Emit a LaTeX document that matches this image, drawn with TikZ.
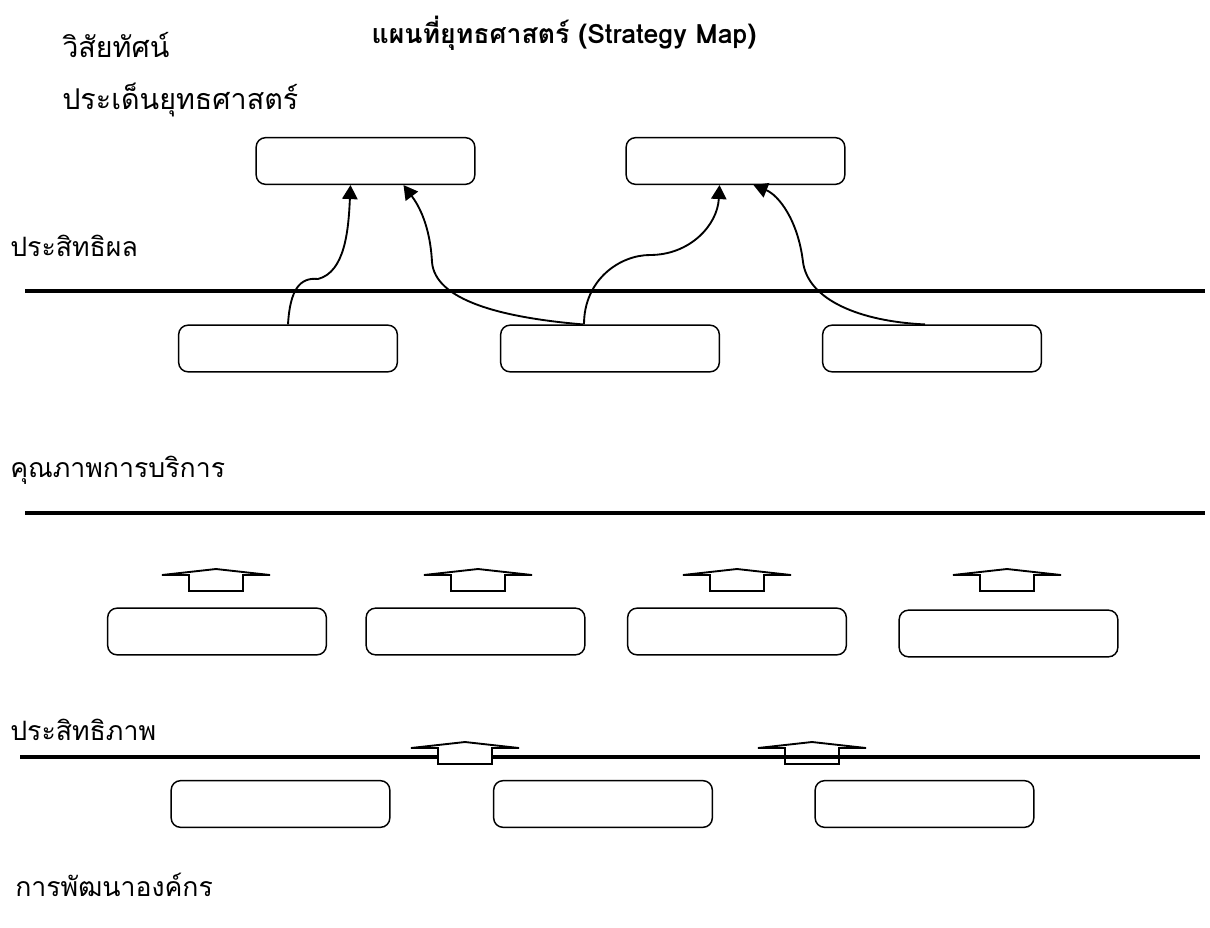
\documentclass[tikz,border=0pt]{standalone}
\usepackage{fontspec}
\setmainfont[Script=Thai]{Loma}
\usepackage{tikz}
\usetikzlibrary{arrows.meta, positioning, calc}

\newcommand{\blockup}[3][]{%
  \draw[hollow, #1] ({#2-54},{#3+6}) -- (#2,#3) -- ({#2+54},{#3+6}) -- ({#2+27},{#3+6})
    -- ({#2+27},{#3+22}) -- ({#2-27},{#3+22}) -- ({#2-27},{#3+6}) -- cycle;}

\begin{document}
\begin{tikzpicture}[
    x=0.75pt, y=-0.75pt,
    font=\fontsize{20pt}{24pt}\selectfont,
    >={Triangle[length=10.5pt, width=11.5pt]},
    title/.style={font=\fontsize{20pt}{24pt}\selectfont\bfseries, inner sep=0pt},
    label/.style={anchor=west, inner sep=0pt},
    biglabel/.style={label, font=\fontsize{21.5pt}{26pt}\selectfont},
    goal/.style={draw, line width=1.1pt, rounded corners=7pt, minimum width=164pt, minimum height=35pt},
    layer/.style={line width=2.4pt},
    link/.style={->, line width=1.4pt},
    hollow/.style={draw, fill=white, line width=1.4pt, line join=miter}
]
\useasboundingbox (0,0) rectangle (1210,928);

\node[title] (heading) at (564,33) {แผนที่ยุทธศาสตร์ (Strategy Map)};
\node[biglabel] (vision) at (62,45) {วิสัยทัศน์};
\node[biglabel] (issue) at (62,100) {ประเด็นยุทธศาสตร์};
\node[label] (effect) at (10,246) {ประสิทธิผล};
\node[label] (quality) at (10,470) {คุณภาพการบริการ};
\node[label] (effic) at (10,730) {ประสิทธิภาพ};
\node[label] (devel) at (15,885) {การพัฒนาองค์กร};

\draw[layer] (25,291) -- (1205,291);
\draw[layer] (25,513) -- (1205,513);
\draw[layer] (20,757) -- (1200,757);

\node[goal] (t1) at (365.5,161) {};
\node[goal] (t2) at (735.5,161) {};

\node[goal] (m1) at (288,348.5) {};
\node[goal] (m2) at (610,348.5) {};
\node[goal] (m3) at (932,348.5) {};

\node[goal] (r1) at (217,631.5) {};
\node[goal] (r2) at (475.5,631.5) {};
\node[goal] (r3) at (737,631.5) {};
\node[goal] (r4) at (1008.5,633.5) {};

\node[goal] (b1) at (280.5,804) {};
\node[goal] (b2) at (603,804) {};
\node[goal] (b3) at (924.5,804) {};

\draw[link] (m1.north) .. controls +(2,-35) and +(-18,-2) .. (318,279)
    .. controls +(27,-7) and +(-2,45) .. ($(t1.south)+(-15,0)$);
\draw[link] ($(m2.north)+(-27,0)$) .. controls +(-83,-7) and +(3,38) .. (432,262)
    .. controls +(-2,-37) and +(15,20) .. ($(t1.south)+(38,0)$);
\draw[link] ($(m2.north)+(-26,0)$) .. controls +(0,-45) and +(-30,0) .. (650,255)
    .. controls +(40,0) and +(-2,40) .. ($(t2.south)+(-16,0)$);
\draw[link] ($(m3.north)+(-7,0)$) .. controls +(-65,-3) and +(5,38) .. (803,262)
    .. controls +(-5,-42) and +(25,10) .. ($(t2.south)+(18,0)$);

\blockup{216}{569}
\blockup{478}{569}
\blockup{737}{569}
\blockup{1007}{569}

\blockup{465}{742}
\blockup[fill=none]{812}{742}

\end{tikzpicture}
\end{document}
